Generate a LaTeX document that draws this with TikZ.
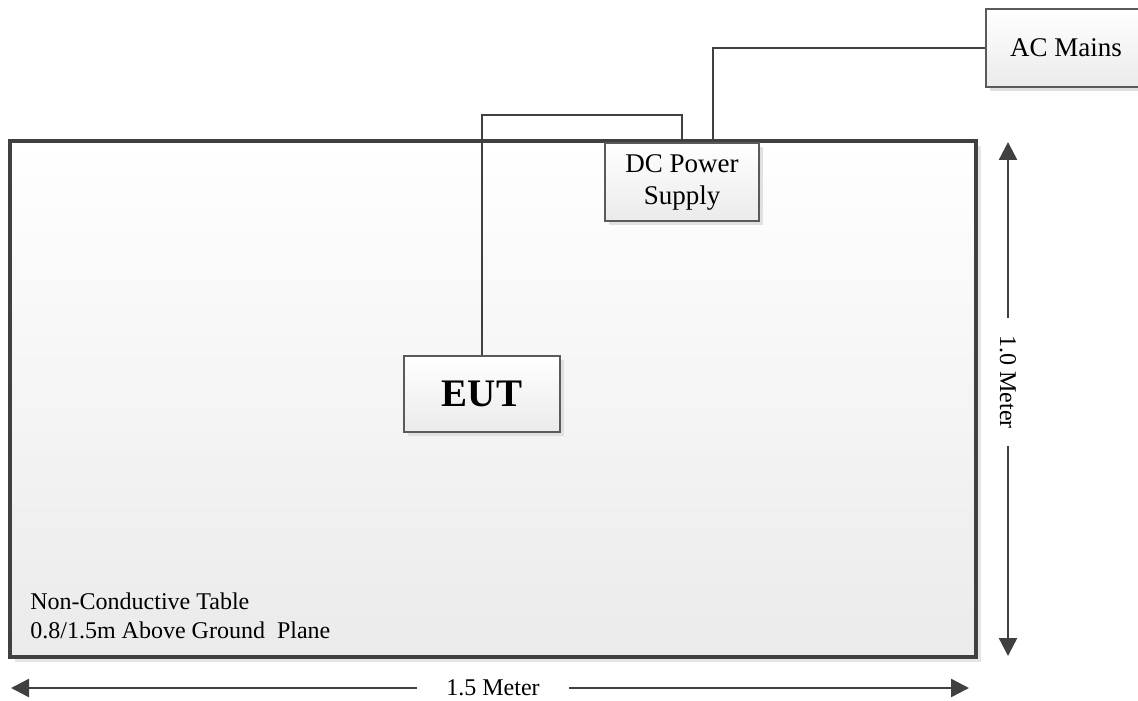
\documentclass[tikz,border=0pt]{standalone}
\usepackage{fontspec}
\setmainfont{Liberation Serif}
\usetikzlibrary{arrows.meta,shadows}
\definecolor{linegray}{HTML}{404040}
\definecolor{boxgray}{HTML}{5A5A5A}

\begin{document}
\begin{tikzpicture}[x=0.5pt, y=-0.5pt, >={Triangle[length=9pt,width=9pt]}]
    \tikzstyle{tablebox} = [rectangle, draw=linegray, line width=2pt, inner sep=0pt, minimum width=483pt, minimum height=258pt, top color=white, bottom color=black!8, drop shadow={shadow xshift=2.5pt, shadow yshift=-2.5pt, fill=black!10, opacity=1}]
    \tikzstyle{unit} = [rectangle, draw=boxgray, line width=0.75pt, inner sep=0pt, minimum height=39pt, top color=white, bottom color=black!8, drop shadow={shadow xshift=2pt, shadow yshift=-2pt, fill=black!12, opacity=1}, text centered, align=center, font=\fontsize{13.5}{16}\selectfont]
    \tikzstyle{wire} = [draw=linegray, line width=1.1pt]
    \tikzstyle{dim} = [draw=linegray, line width=1.2pt]
    \tikzstyle{dimlabel} = [inner ysep=0pt, font=\fontsize{12}{14}\selectfont]

    \useasboundingbox (0,0) rectangle (1138,700);

    % Table
    \node [tablebox] (table) at (493,399) {};
    \node [anchor=west, align=left, inner sep=0pt, font=\fontsize{12}{14.5}\selectfont] (tabletext) at (30,616) {Non-Conductive Table\\0.8/1.5m Above Ground\ \ Plane};

    % Units
    \node [unit, minimum width=77pt] (dcps) at (682,182) {DC Power\\Supply};
    \node [unit, minimum width=80pt] (acmains) at (1066,48) {AC Mains};
    \node [unit, minimum width=78pt, minimum height=38pt, font=\fontsize{19.5}{22}\selectfont\bfseries] (eut) at (482,394) {EUT};

    % Cables
    \coordinate (eutbend) at (682,115);
    \draw [wire] (eut.north) |- (eutbend) -- (dcps.north);
    \draw [wire] ([xshift=15.5pt]dcps.north) |- (acmains.west);

    % Dimensions
    \coordinate (vtop) at (1008,142);
    \coordinate (vbot) at (1008,656);
    \node [dimlabel, rotate=-90, inner xsep=8.5pt] (vlabel) at (1008,382) {1.0 Meter};
    \draw [dim, ->] (vlabel.west) -- (vtop);
    \draw [dim, ->] (vlabel.east) -- (vbot);

    \coordinate (hleft) at (11,688);
    \coordinate (hright) at (969,688);
    \node [dimlabel, inner xsep=14.5pt] (hlabel) at (493,688) {1.5 Meter};
    \draw [dim, ->] (hlabel.west) -- (hleft);
    \draw [dim, ->] (hlabel.east) -- (hright);
\end{tikzpicture}
\end{document}
